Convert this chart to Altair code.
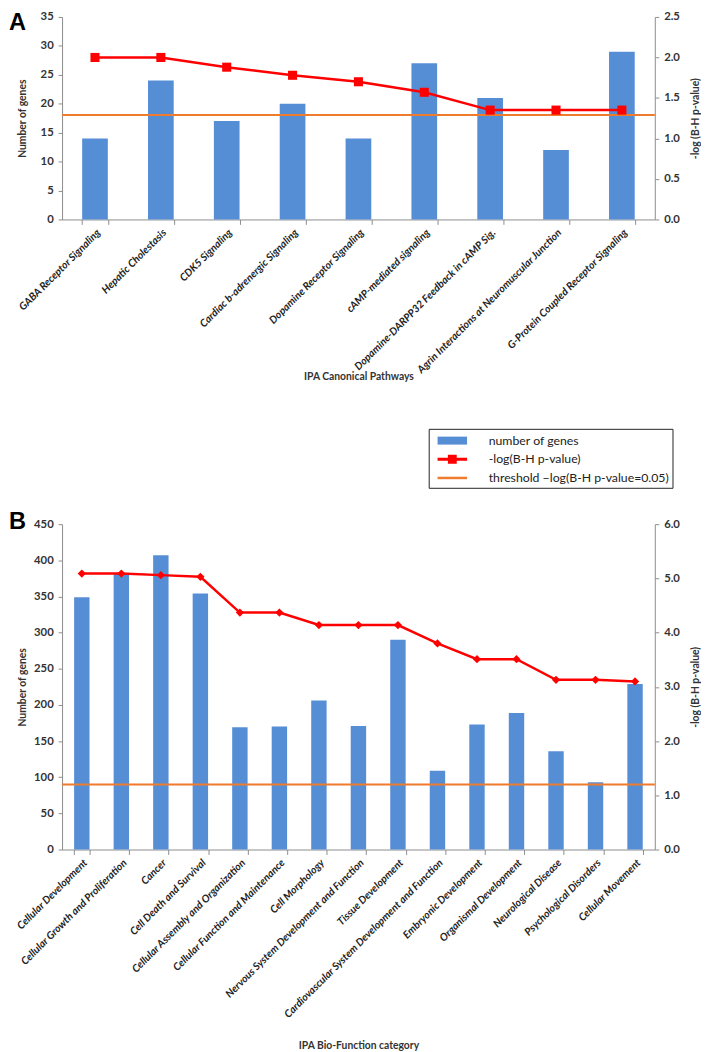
import altair as alt
import pandas as pd

# ---------------- data ----------------
pathways = [
    "GABA Receptor Signaling",
    "Hepatic Cholestasis",
    "CDK5 Signaling",
    "Cardiac b-adrenergic Signaling",
    "Dopamine Receptor Signaling",
    "cAMP-mediated signaling",
    "Dopamine-DARPP32 Feedback in cAMP Sig.",
    "Agrin Interactions at Neuromuscular Junction",
    "G-Protein Coupled Receptor Signaling",
]
pathway_genes = [14, 24, 17, 20, 14, 27, 21, 12, 29]
pathway_logp = [2.00, 2.00, 1.88, 1.78, 1.70, 1.57, 1.35, 1.35, 1.35]
pathway_threshold = [1.29]

functions = [
    "Cellular Development",
    "Cellular Growth and Proliferation",
    "Cancer",
    "Cell Death and Survival",
    "Cellular Assembly and Organization",
    "Cellular Function and Maintenance",
    "Cell Morphology",
    "Nervous System Development and Function",
    "Tissue Development",
    "Cardiovascular System Development and Function",
    "Embryonic Development",
    "Organismal Development",
    "Neurological Disease",
    "Psychological Disorders",
    "Cellular Movement",
]
function_genes = [349, 382, 407, 354, 169, 170, 206, 171, 290, 109, 173, 189, 136, 93, 229]
function_logp = [5.09, 5.09, 5.06, 5.03, 4.37, 4.37, 4.14, 4.14, 4.14, 3.80, 3.51, 3.51, 3.13, 3.13, 3.10]
function_threshold = [1.2]

legend_labels = ["number of genes", "-log(B-H p-value)", "threshold \u2212log(B-H p-value=0.05)"]

BLUE = "#568ed6"
RED = "#ff0000"
ORANGE = "#ef7b2c"
FONT = "Lato"
AXIS_GRAY = "#8c8c8c"
TEXT = "#333333"

PLOT_W = 603

# custom legend symbols (unit box, scaled by symbol size)
SYM_BAR = "M-1.667,-0.45H1.667V0.45H-1.667Z"
SYM_LINE_MARK = ("M-1.667,-0.17H-0.5V-0.5H0.5V-0.17H1.667V0.17H0.5V0.5H-0.5V0.17H-1.667Z")
SYM_RULE = "M-1.667,-0.14H1.667V0.14H-1.667Z"


def panel(cats, genes, logp, thr, left_max, left_step, right_max, right_step,
          letter, letter_y, marker, msize, xtitle, height, title_y, with_legend):
    df = pd.DataFrame({"category": cats, "genes": genes, "logp": logp})
    thr_df = pd.DataFrame({"threshold": thr})

    xenc = alt.X(
        "category:N", sort=cats, title=xtitle,
        scale=alt.Scale(paddingInner=0.61, paddingOuter=0.305),
        axis=alt.Axis(labelAngle=-45, labelFontStyle="italic", labelFontSize=10.6,
                      labelFontWeight="bold", labelColor="#222222", labelLimit=400,
                      tickBand="extent", tickSize=5, labelPadding=3,
                      titleY=title_y, titleBaseline="middle", titleFontSize=10.5),
    )

    left_vals = list(range(0, left_max + 1, left_step))
    bars = alt.Chart(df).mark_bar(color=BLUE).encode(
        x=xenc,
        y=alt.Y("genes:Q", scale=alt.Scale(domain=[0, left_max], nice=False),
                axis=alt.Axis(values=left_vals, title="Number of genes", orient="left",
                              titleX=-40, titleBaseline="middle", titleAngle=270)),
    )

    n_right = int(round(right_max / right_step))
    right_vals = [round(i * right_step, 2) for i in range(n_right + 1)]
    right_axis = alt.Axis(values=right_vals, format=".1f", title="-log (B-H p-value)",
                          orient="right", titleX=41, titleBaseline="middle", titleAngle=270)
    yscale = alt.Scale(domain=[0, right_max], nice=False)

    rule = alt.Chart(thr_df).mark_rule(color=ORANGE, strokeWidth=2).encode(
        y=alt.Y("threshold:Q", scale=yscale, axis=right_axis),
    )
    line = alt.Chart(df).mark_line(
        color=RED, strokeWidth=2.5,
        point=alt.OverlayMarkDef(shape=marker, size=msize, color=RED, filled=True, opacity=1),
    ).encode(
        x=alt.X("category:N", sort=cats),
        y=alt.Y("logp:Q", scale=yscale, axis=right_axis),
    )
    right = alt.layer(rule, line)

    label = alt.Chart(pd.DataFrame({"panel": [letter]})).mark_text(
        font="Liberation Sans", fontWeight="bold", fontSize=24, align="left",
        baseline="top", color="black",
    ).encode(text="panel:N", x=alt.value(-54), y=alt.value(letter_y))

    layers = [bars, right, label]
    if with_legend:
        leg_df = pd.DataFrame({"series": legend_labels})
        leg = alt.Legend(title=None, orient="none", legendX=373, legendY=419,
                         direction="vertical", symbolSize=324, symbolStrokeWidth=0,
                         symbolOffset=12, labelOffset=28, labelFont=FONT, labelFontSize=12.5,
                         labelColor="#222222", padding=3, rowPadding=3, labelLimit=400,
                         strokeColor="#222222", fillColor="white")
        legend_layer = alt.Chart(leg_df).mark_point(filled=True, opacity=1).encode(
            color=alt.Color("series:N", scale=alt.Scale(domain=legend_labels,
                                                        range=[BLUE, RED, ORANGE]),
                            legend=leg),
            shape=alt.Shape("series:N", scale=alt.Scale(domain=legend_labels,
                                                        range=[SYM_BAR, SYM_LINE_MARK, SYM_RULE]),
                            legend=leg),
        ).transform_filter("false")
        layers.append(legend_layer)

    return alt.layer(*layers).resolve_scale(y="independent").properties(
        width=PLOT_W, height=height)


chart_a = panel(pathways, pathway_genes, pathway_logp, pathway_threshold,
                35, 5, 2.5, 0.5, "A", -6, "square", 85, "IPA Canonical Pathways", 206, 160, True)
chart_b = panel(functions, function_genes, function_logp, function_threshold,
                450, 50, 6.0, 1.0, "B", -14, "diamond", 70, "IPA Bio-Function category", 331, 199, False)

chart = alt.vconcat(chart_a, chart_b, spacing=129).properties(
    padding={"left": 0, "top": -7, "right": 0, "bottom": 0}
).configure_view(
    stroke="transparent"
).configure_axis(
    labelFont=FONT, titleFont=FONT, labelFontWeight="bold", titleFontWeight="bold",
    labelFontSize=11.5, titleFontSize=10.5, labelColor=TEXT, titleColor=TEXT,
    domainColor=AXIS_GRAY, tickColor=AXIS_GRAY, grid=False, tickSize=4, labelPadding=5,
)

chart.save("out.html", embed_options={"renderer": "svg", "actions": False})
